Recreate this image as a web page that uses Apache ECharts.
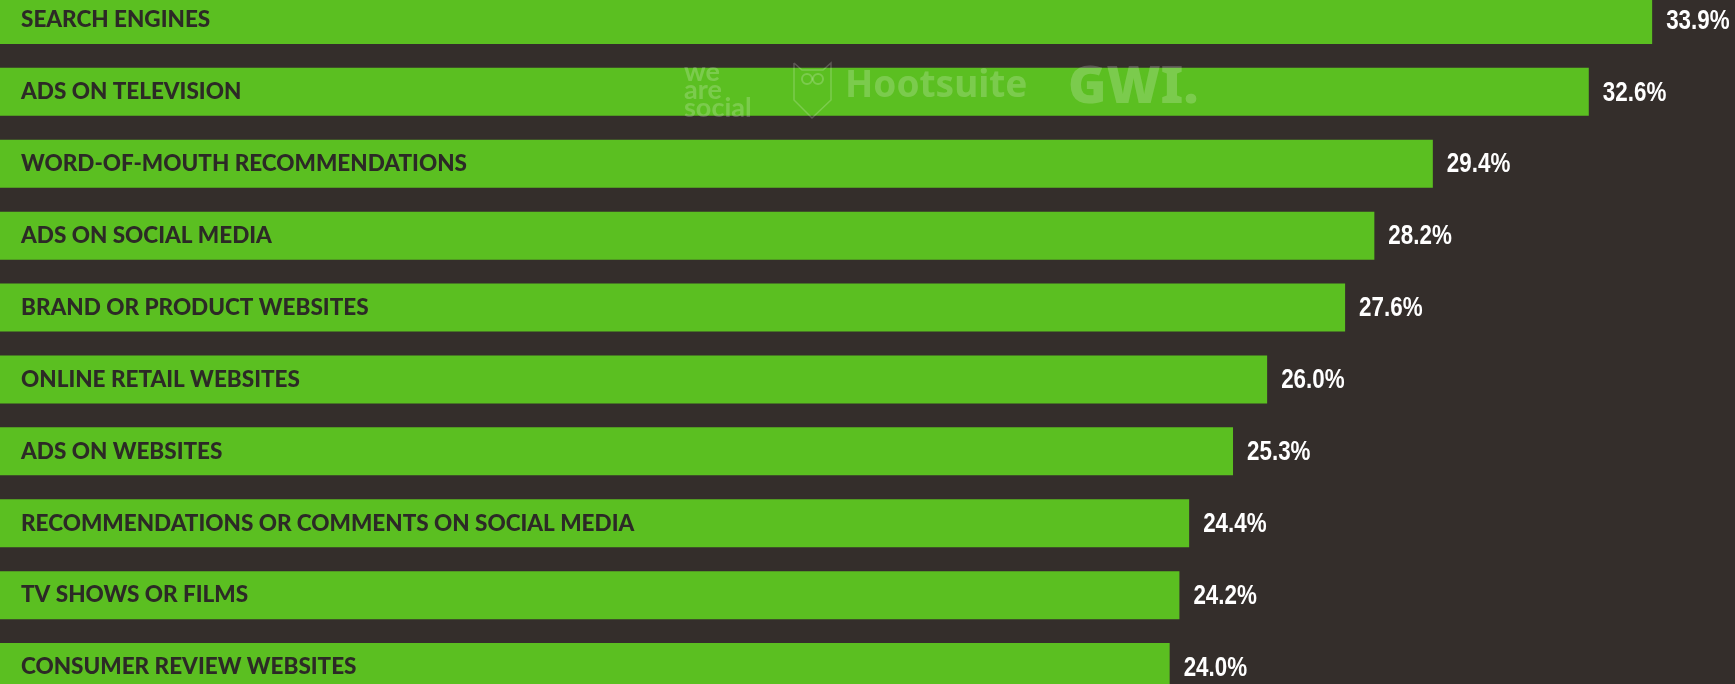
<!DOCTYPE html>
<html>
<head>
<meta charset="utf-8">
<script src="https://cdn.jsdelivr.net/npm/echarts@6/dist/echarts.min.js"></script>
<style>
  html, body { margin: 0; padding: 0; background: #342e2b; }
  #chart { width: 1735px; height: 684px; }
</style>
</head>
<body>
<div id="chart"></div>
<script>
const categories = [
  "SEARCH ENGINES",
  "ADS ON TELEVISION",
  "WORD-OF-MOUTH RECOMMENDATIONS",
  "ADS ON SOCIAL MEDIA",
  "BRAND OR PRODUCT WEBSITES",
  "ONLINE RETAIL WEBSITES",
  "ADS ON WEBSITES",
  "RECOMMENDATIONS OR COMMENTS ON SOCIAL MEDIA",
  "TV SHOWS OR FILMS",
  "CONSUMER REVIEW WEBSITES",
];
const shares = [33.9, 32.6, 29.4, 28.2, 27.6, 26.0, 25.3, 24.4, 24.2, 24.0];

const chart = echarts.init(document.getElementById("chart"), null, { renderer: "canvas" });

// faint sponsor marks sitting over the second bar
const mark = "rgba(255,255,255,0.2)";

chart.setOption({
  backgroundColor: "#342e2b",
  animation: false,
  grid: { left: 0, right: 0, top: -16, height: 719, outerBoundsMode: "none", containLabel: false },
  xAxis: {
    type: "value",
    min: 0,
    max: 35.6,
    show: false,
  },
  yAxis: {
    type: "category",
    data: categories,
    inverse: true,
    z: 10,
    axisLine: { show: false },
    axisTick: { show: false },
    splitLine: { show: false },
    axisLabel: {
      inside: true,
      margin: 21,
      color: "#2c2a26",
      fontFamily: "Lato",
      fontWeight: 900,
      fontSize: 22.5,
    },
  },
  series: [
    {
      type: "bar",
      data: shares,
      barWidth: 48,
      itemStyle: { color: "#5bbf21" },
    },
    {
      // value labels, squeezed horizontally to get the condensed look
      type: "custom",
      data: shares.map((v, i) => [v, i]),
      encode: { x: 0, y: 1 },
      z: 5,
      renderItem: (params, api) => {
        const v = api.value(0);
        const pt = api.coord([v, api.value(1)]);
        return {
          type: "text",
          x: pt[0] + 14,
          y: pt[1] + 1,
          scaleX: 0.8,
          style: {
            text: v.toFixed(1) + "%",
            fill: "#ffffff",
            font: "bold 28px 'Liberation Sans', Arial, sans-serif",
            align: "left",
            verticalAlign: "middle",
          },
        };
      },
    },
  ],
  graphic: [
    {
      type: "text",
      left: 684,
      top: 59,
      z: 20,
      style: {
        text: "we\nare\nsocial",
        fill: mark,
        font: "bold 27px Lato",
        lineHeight: 18,
      },
    },
    {
      type: "polyline",
      z: 20,
      shape: { points: [[794, 63], [794, 100], [812, 118], [831, 100], [831, 63], [823, 70], [802, 70], [794, 63]] },
      style: { stroke: mark, fill: null, lineWidth: 1.5 },
    },
    {
      type: "circle", z: 20,
      shape: { cx: 807, cy: 79, r: 5 },
      style: { stroke: mark, fill: null, lineWidth: 2 },
    },
    {
      type: "circle", z: 20,
      shape: { cx: 818, cy: 79, r: 5 },
      style: { stroke: mark, fill: null, lineWidth: 2 },
    },
    {
      type: "text",
      left: 845,
      top: 68,
      z: 20,
      style: { text: "Hootsuite", fill: mark, font: "bold 37px 'Noto Sans'" },
    },
    {
      type: "text",
      left: 1068,
      top: 62,
      z: 20,
      style: { text: "GWI.", fill: mark, font: "900 52px 'Noto Sans'" },
    },
  ],
});
</script>
</body>
</html>
